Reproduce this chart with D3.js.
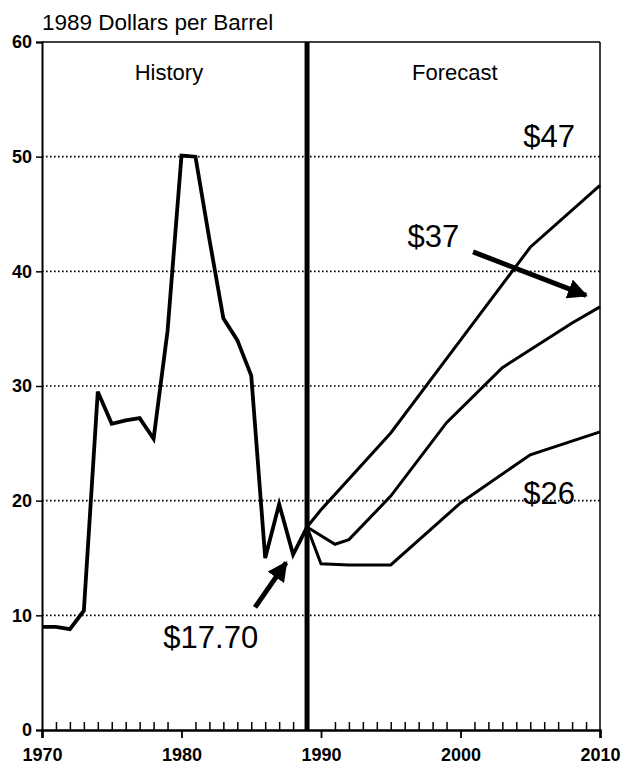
<!DOCTYPE html>
<html>
<head>
<meta charset="utf-8">
<script src="https://cdn.jsdelivr.net/npm/d3@7"></script>
<style>
  html, body { margin: 0; padding: 0; background: #fff; }
  svg { display: block; font-family: "Liberation Sans", Arial, Helvetica, sans-serif; }
</style>
</head>
<body>
<svg id="chart" width="623" height="765"></svg>
<script>
// ---- data ----
const historyYears  = [1970,1971,1972,1973,1974,1975,1976,1977,1978,1979,1980,1981,1982,1983,1984,1985,1986,1987,1988,1989];
const historyPrices = [9.0, 9.0, 8.8, 10.4, 29.5, 26.7, 27.0, 27.2, 25.4, 34.8, 50.1, 50.0, 42.8, 35.9, 34.0, 30.9, 15.0, 19.7, 15.3, 17.7];

const highYears  = [1989, 1990, 1995, 2000, 2005, 2010];
const highPrices = [17.7, 19.2, 25.9, 34.0, 42.1, 47.5];

const midYears  = [1989, 1991, 1992, 1995, 1999, 2003, 2008, 2010];
const midPrices = [17.7, 16.2, 16.6, 20.4, 26.8, 31.6, 35.5, 36.9];

const lowYears  = [1989, 1990, 1992, 1995, 2000, 2005, 2010];
const lowPrices = [17.7, 14.5, 14.4, 14.4, 19.8, 24.0, 26.0];

const yTicks = [0, 10, 20, 30, 40, 50, 60];
const xTicks = [1970, 1980, 1990, 2000, 2010];
const gridValues = [10, 20, 30, 40, 50];
const dividerYear = 1989;

const titleText = "1989 Dollars per Barrel";
const sectionLabels = ["History", "Forecast"];
const scenarioLabels = ["$47", "$37", "$26", "$17.70"];

// ---- layout ----
const svg = d3.select("#chart");
const mLeft = 42, mRight = 600, mTop = 42, mBottom = 730;
const x = d3.scaleLinear().domain([1970, 2010]).range([mLeft, mRight]);
const y = d3.scaleLinear().domain([0, 60]).range([mBottom, mTop]);

// grid lines (dotted)
svg.append("g").selectAll("line").data(gridValues).join("line")
  .attr("x1", mLeft).attr("x2", mRight)
  .attr("y1", d => y(d)).attr("y2", d => y(d))
  .attr("stroke", "#000").attr("stroke-width", 1.6)
  .attr("stroke-dasharray", "1.6,2.4");

// y axis
const yAxis = d3.axisLeft(y).tickValues(yTicks).tickSize(6).tickPadding(4).tickFormat(d3.format("d"));
const gy = svg.append("g").attr("transform", `translate(${mLeft},0)`).call(yAxis);
gy.select(".domain").attr("stroke-width", 2);
gy.selectAll(".tick line").attr("stroke-width", 1.5);
gy.selectAll(".tick text").attr("font-size", 18).attr("font-weight", "bold").attr("fill", "#000")
  .attr("font-family", "Liberation Sans, Arial, sans-serif");

// x axis: minor ticks every year upward, major decades downward
const years = d3.range(1970, 2011);
const gxMinor = svg.append("g").attr("transform", `translate(0,${mBottom})`)
  .call(d3.axisTop(x).tickValues(years.filter(v => v % 10 !== 0)).tickSize(8).tickFormat(""));
gxMinor.select(".domain").remove();
gxMinor.selectAll(".tick line").attr("stroke-width", 1.5);

const gx = svg.append("g").attr("transform", `translate(0,${mBottom})`)
  .call(d3.axisBottom(x).tickValues(xTicks).tickSize(8).tickPadding(10).tickFormat(d3.format("d")));
gx.select(".domain").attr("stroke-width", 2.5);
gx.selectAll(".tick line").attr("stroke-width", 1.8);
gx.selectAll(".tick text").attr("font-size", 18).attr("font-weight", "bold").attr("fill", "#000")
  .attr("font-family", "Liberation Sans, Arial, sans-serif");

// frame top and right
svg.append("line").attr("x1", mLeft).attr("x2", mRight).attr("y1", y(60)).attr("y2", y(60))
  .attr("stroke", "#000").attr("stroke-width", 1.5);
svg.append("line").attr("x1", x(2010)).attr("x2", x(2010)).attr("y1", y(60)).attr("y2", y(0))
  .attr("stroke", "#000").attr("stroke-width", 1.5);

// divider at 1989
svg.append("line").attr("x1", x(dividerYear)).attr("x2", x(dividerYear))
  .attr("y1", y(60)).attr("y2", y(0))
  .attr("stroke", "#000").attr("stroke-width", 5);

// lines
const line = d3.line().x(d => x(d[0])).y(d => y(d[1]));
function drawSeries(xs, ys, w) {
  svg.append("path").datum(xs.map((v, i) => [v, ys[i]]))
    .attr("d", line).attr("fill", "none").attr("stroke", "#000")
    .attr("stroke-width", w).attr("stroke-linejoin", "miter");
}
drawSeries(historyYears, historyPrices, 3.8);
drawSeries(highYears, highPrices, 3);
drawSeries(midYears, midPrices, 3);
drawSeries(lowYears, lowPrices, 3);

// title
svg.append("text").attr("x", mLeft).attr("y", 30).attr("font-size", 22.5).text(titleText);

// section labels
svg.append("text").attr("x", x(1979.1)).attr("y", y(56.7)).attr("text-anchor", "middle")
  .attr("font-size", 22).text(sectionLabels[0]);
svg.append("text").attr("x", x(1999.6)).attr("y", y(56.7)).attr("text-anchor", "middle")
  .attr("font-size", 22).text(sectionLabels[1]);

// scenario labels
const labelPos = [[2004.5, 50.8], [1996.2, 42.1], [2004.5, 19.7], [1978.7, 7.15]];
scenarioLabels.forEach((t, i) => {
  svg.append("text").attr("x", x(labelPos[i][0])).attr("y", y(labelPos[i][1]))
    .attr("font-size", 31).text(t);
});

// arrows
svg.append("defs").append("marker").attr("id", "ah")
  .attr("viewBox", "0 0 10 10").attr("refX", 9).attr("refY", 5)
  .attr("markerWidth", 4).attr("markerHeight", 4).attr("orient", "auto")
  .attr("markerUnits", "strokeWidth")
  .append("path").attr("d", "M0,0 L10,5 L0,10 z").attr("fill", "#000");
const arrows = [[[2000.9, 41.7], [2009.0, 37.9]], [[1985.27, 10.7], [1987.5, 14.6]]];
arrows.forEach(a => {
  svg.append("line").attr("x1", x(a[0][0])).attr("y1", y(a[0][1]))
    .attr("x2", x(a[1][0])).attr("y2", y(a[1][1]))
    .attr("stroke", "#000").attr("stroke-width", 5)
    .attr("marker-end", "url(#ah)");
});
</script>
</body>
</html>
